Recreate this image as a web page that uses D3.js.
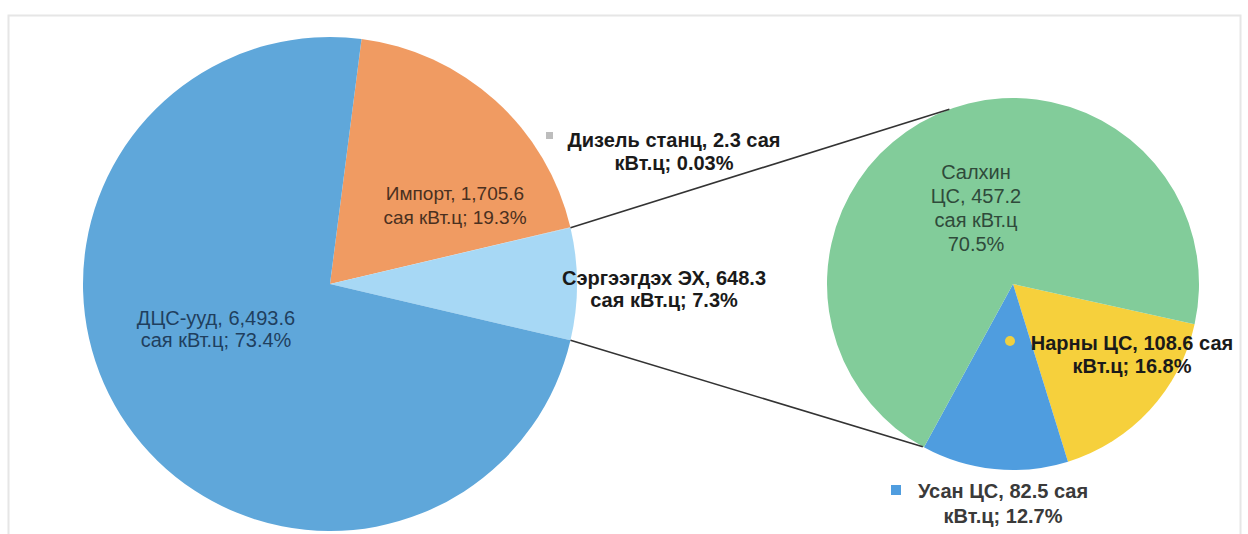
<!DOCTYPE html>
<html><head><meta charset="utf-8">
<script src="https://cdn.jsdelivr.net/npm/d3@7"></script>
<style>html,body{margin:0;padding:0;background:#fff;}svg{display:block;}</style>
</head><body>
<svg id="chart" width="1248" height="534"></svg>
<script>
// ---- data ----
const mainCategories = ["Импорт", "Дизель станц", "Сэргээгдэх ЭХ", "ДЦС-ууд"];
const mainValues = [1705.6, 2.3, 648.3, 6493.6];
const mainPercents = ["19.3%", "0.03%", "7.3%", "73.4%"];
const mainValueLabels = ["1,705.6", "2.3", "648.3", "6,493.6"];
const subCategories = ["Нарны ЦС", "Усан ЦС", "Салхин ЦС"];
const subValues = [108.6, 82.5, 457.2];
const subPercents = ["16.8%", "12.7%", "70.5%"];

// ---- layout ----
const svg = d3.select("#chart");
const mainC = {x: 330, y: 284, r: 247};
const subC = {x: 1013, y: 284, r: 186};
const deg = Math.PI / 180;
const mainColors = ["#f09b62", "#bdbdbd", "#a7d8f5", "#5fa7da"];
const subColors = ["#f6d03c", "#4f9ddf", "#82cc9a"];

// frame
svg.append("rect").attr("x", 8.5).attr("y", 15.5).attr("width", 1232).attr("height", 530)
  .attr("fill", "none").attr("stroke", "#e6e6e6").attr("stroke-width", 2);

const total = d3.sum(mainValues);
const otherIdx = 2;
const before = d3.sum(mainValues.slice(0, otherIdx)) + mainValues[otherIdx] / 2;
const mainStart = Math.PI / 2 - before / total * 2 * Math.PI;
const mainPie = d3.pie().sort(null).startAngle(mainStart).endAngle(mainStart + 2 * Math.PI);
const mainArcs = mainPie(mainValues);
const mainArc = d3.arc().innerRadius(0).outerRadius(mainC.r);

const gMain = svg.append("g").attr("transform", `translate(${mainC.x},${mainC.y})`);
gMain.selectAll("path").data(mainArcs).join("path")
  .attr("d", mainArc).attr("fill", (d, i) => mainColors[i]);

const subPie = d3.pie().sort(null).startAngle(102.5 * deg).endAngle(102.5 * deg + 2 * Math.PI);
const subArcs = subPie(subValues);
const subArc = d3.arc().innerRadius(0).outerRadius(subC.r);
const gSub = svg.append("g").attr("transform", `translate(${subC.x},${subC.y})`);
gSub.selectAll("path").data(subArcs).join("path")
  .attr("d", subArc).attr("fill", (d, i) => subColors[i]);

// connector lines
const pt = (c, a, r) => [c.x + r * Math.sin(a), c.y - r * Math.cos(a)];
const oa = mainArcs[otherIdx];
const lines = [
  [pt(mainC, oa.startAngle, mainC.r), pt(subC, 340 * deg, subC.r)],
  [pt(mainC, oa.endAngle, mainC.r), pt(subC, 209 * deg, subC.r)]
];
svg.selectAll("line.conn").data(lines).join("line").attr("class", "conn")
  .attr("x1", d => d[0][0]).attr("y1", d => d[0][1])
  .attr("x2", d => d[1][0]).attr("y2", d => d[1][1])
  .attr("stroke", "#333").attr("stroke-width", 1.6);

// labels
function label(lines, x, y, opts) {
  const t = svg.append("text").attr("x", x).attr("y", y)
    .attr("text-anchor", "middle")
    .attr("font-family", "Liberation Sans, Arial, sans-serif")
    .attr("font-size", opts.size || 20)
    .attr("font-weight", opts.weight || "bold")
    .attr("fill", opts.color || "#222");
  lines.forEach((l, i) => t.append("tspan").attr("x", x).attr("dy", i === 0 ? 0 : (opts.lh || 23)).text(l));
  return t;
}
// main slices
label([`${mainCategories[3]}, ${mainValueLabels[3]}`, `сая кВт.ц; ${mainPercents[3]}`], 216, 325,
  {weight: "normal", color: "#1f3f5e", size: 20, lh: 22});
label([`${mainCategories[0]}, ${mainValueLabels[0]}`, `сая кВт.ц; ${mainPercents[0]}`], 455, 200,
  {weight: "normal", color: "#4a3020", size: 19, lh: 24});
label([`${mainCategories[1]}, ${mainValueLabels[1]} сая`, `кВт.ц; ${mainPercents[1]}`], 674, 147,
  {color: "#1a1a1a", size: 20});
svg.append("rect").attr("x", 546).attr("y", 132).attr("width", 7).attr("height", 7).attr("fill", mainColors[1]);
label([`${mainCategories[2]}, ${mainValueLabels[2]}`, `сая кВт.ц; ${mainPercents[2]}`], 664, 285,
  {color: "#1a1a1a", size: 20, lh: 22});

// sub slices
label(["Салхин", "ЦС, " + subValues[2].toFixed(1), "сая кВт.ц", subPercents[2]], 976, 179,
  {weight: "normal", color: "#2f4a3a", size: 20, lh: 24});
label([`${subCategories[0]}, ${subValues[0].toFixed(1)} сая`, `кВт.ц; ${subPercents[0]}`], 1132, 350,
  {color: "#1a1a1a", size: 20});
svg.append("circle").attr("cx", 1010).attr("cy", 341).attr("r", 5).attr("fill", "#f0d040");
label([`${subCategories[1]}, ${subValues[1].toFixed(1)} сая`, `кВт.ц; ${subPercents[1]}`], 1003, 498,
  {color: "#3a3a3a", size: 20, lh: 25});
svg.append("rect").attr("x", 891).attr("y", 485).attr("width", 10).attr("height", 10).attr("fill", subColors[1]);
</script>
</body></html>
